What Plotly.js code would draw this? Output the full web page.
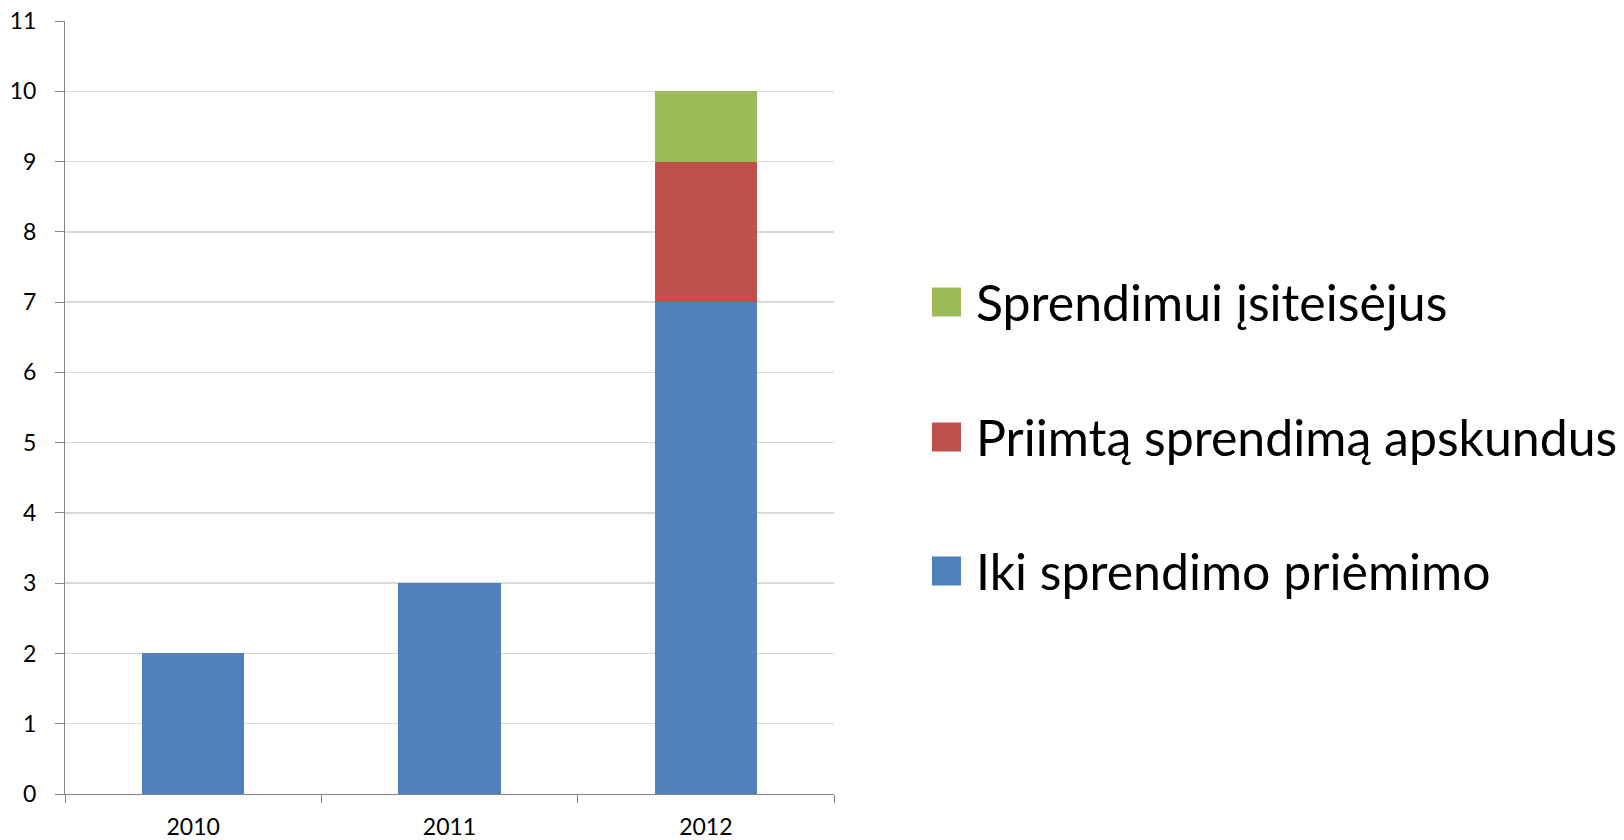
<!DOCTYPE html>
<html>
<head>
<meta charset="utf-8">
<script src="https://cdn.plot.ly/plotly-3.0.1.min.js"></script>
<style>html,body{margin:0;padding:0;background:#fff;}#chart{width:1624px;height:840px;}</style>
</head>
<body>
<div id="chart"></div>
<script>
const years = ['2010', '2011', '2012'];
const seriesNames = ['Iki sprendimo priėmimo', 'Priimtą sprendimą apskundus', 'Sprendimui įsiteisėjus'];
const ikiSprendimo = [2, 3, 7];
const apskundus = [0, 0, 2];
const isiteisejus = [0, 0, 1];
const colors = ['#4F81BD', '#C0504D', '#9BBB59'];
const yTicks = [0,1,2,3,4,5,6,7,8,9,10,11];

const W = 1624, H = 840;
const L = 65, R = 834, T = 21, B = 794;
const px = p => (p - L) / (R - L);
const py = p => (B - p) / (B - T);

const values = [ikiSprendimo, apskundus, isiteisejus];
const traces = values.map((v, i) => ({
  type: 'bar', x: years, y: v, name: seriesNames[i],
  marker: {color: colors[i], line: {width: 0}},
  hoverinfo: 'x+y+name'
}));

// custom legend (top item = last series)
const legendRows = [302, 437, 571];
const shapes = [], annotations = [];
[2, 1, 0].forEach((si, r) => {
  const cy = legendRows[r];
  shapes.push({type: 'rect', xref: 'paper', yref: 'paper',
    x0: px(932), x1: px(961), y0: py(cy + 14.5), y1: py(cy - 14.5),
    fillcolor: colors[si], line: {width: 0}});
  annotations.push({xref: 'paper', yref: 'paper', x: px(974), y: py(cy),
    xanchor: 'left', yanchor: 'middle', showarrow: false, text: seriesNames[si],
    font: {family: 'Lato, sans-serif', size: 50, color: '#000'}});
});

const layout = {
  width: W, height: H,
  margin: {l: L, r: W - R, t: T, b: H - B, pad: 0},
  paper_bgcolor: '#fff', plot_bgcolor: '#fff',
  barmode: 'stack', bargap: 0.6,
  showlegend: false,
  font: {family: 'Lato, sans-serif', color: '#000'},
  xaxis: {
    type: 'category', showgrid: false, zeroline: false,
    showline: true, linecolor: '#868686', linewidth: 1,
    ticks: 'outside', tickson: 'boundaries', ticklen: 8, tickcolor: '#868686', tickwidth: 1,
    tickfont: {size: 23, family: 'Lato, sans-serif', color: '#000'},
    ticklabelstandoff: 12
  },
  yaxis: {
    range: [0, 11], tickvals: yTicks, ticktext: yTicks.map(String),
    showgrid: true, gridcolor: '#d9d9d9', gridwidth: 1.5, zeroline: false,
    showline: true, linecolor: '#868686', linewidth: 1,
    ticks: 'outside', ticklen: 9, tickcolor: '#868686', tickwidth: 1,
    tickfont: {size: 23, family: 'Lato, sans-serif', color: '#000'},
    ticklabelstandoff: 14
  },
  shapes: shapes, annotations: annotations
};

Plotly.newPlot('chart', traces, layout, {displayModeBar: false, staticPlot: true});
</script>
</body>
</html>
